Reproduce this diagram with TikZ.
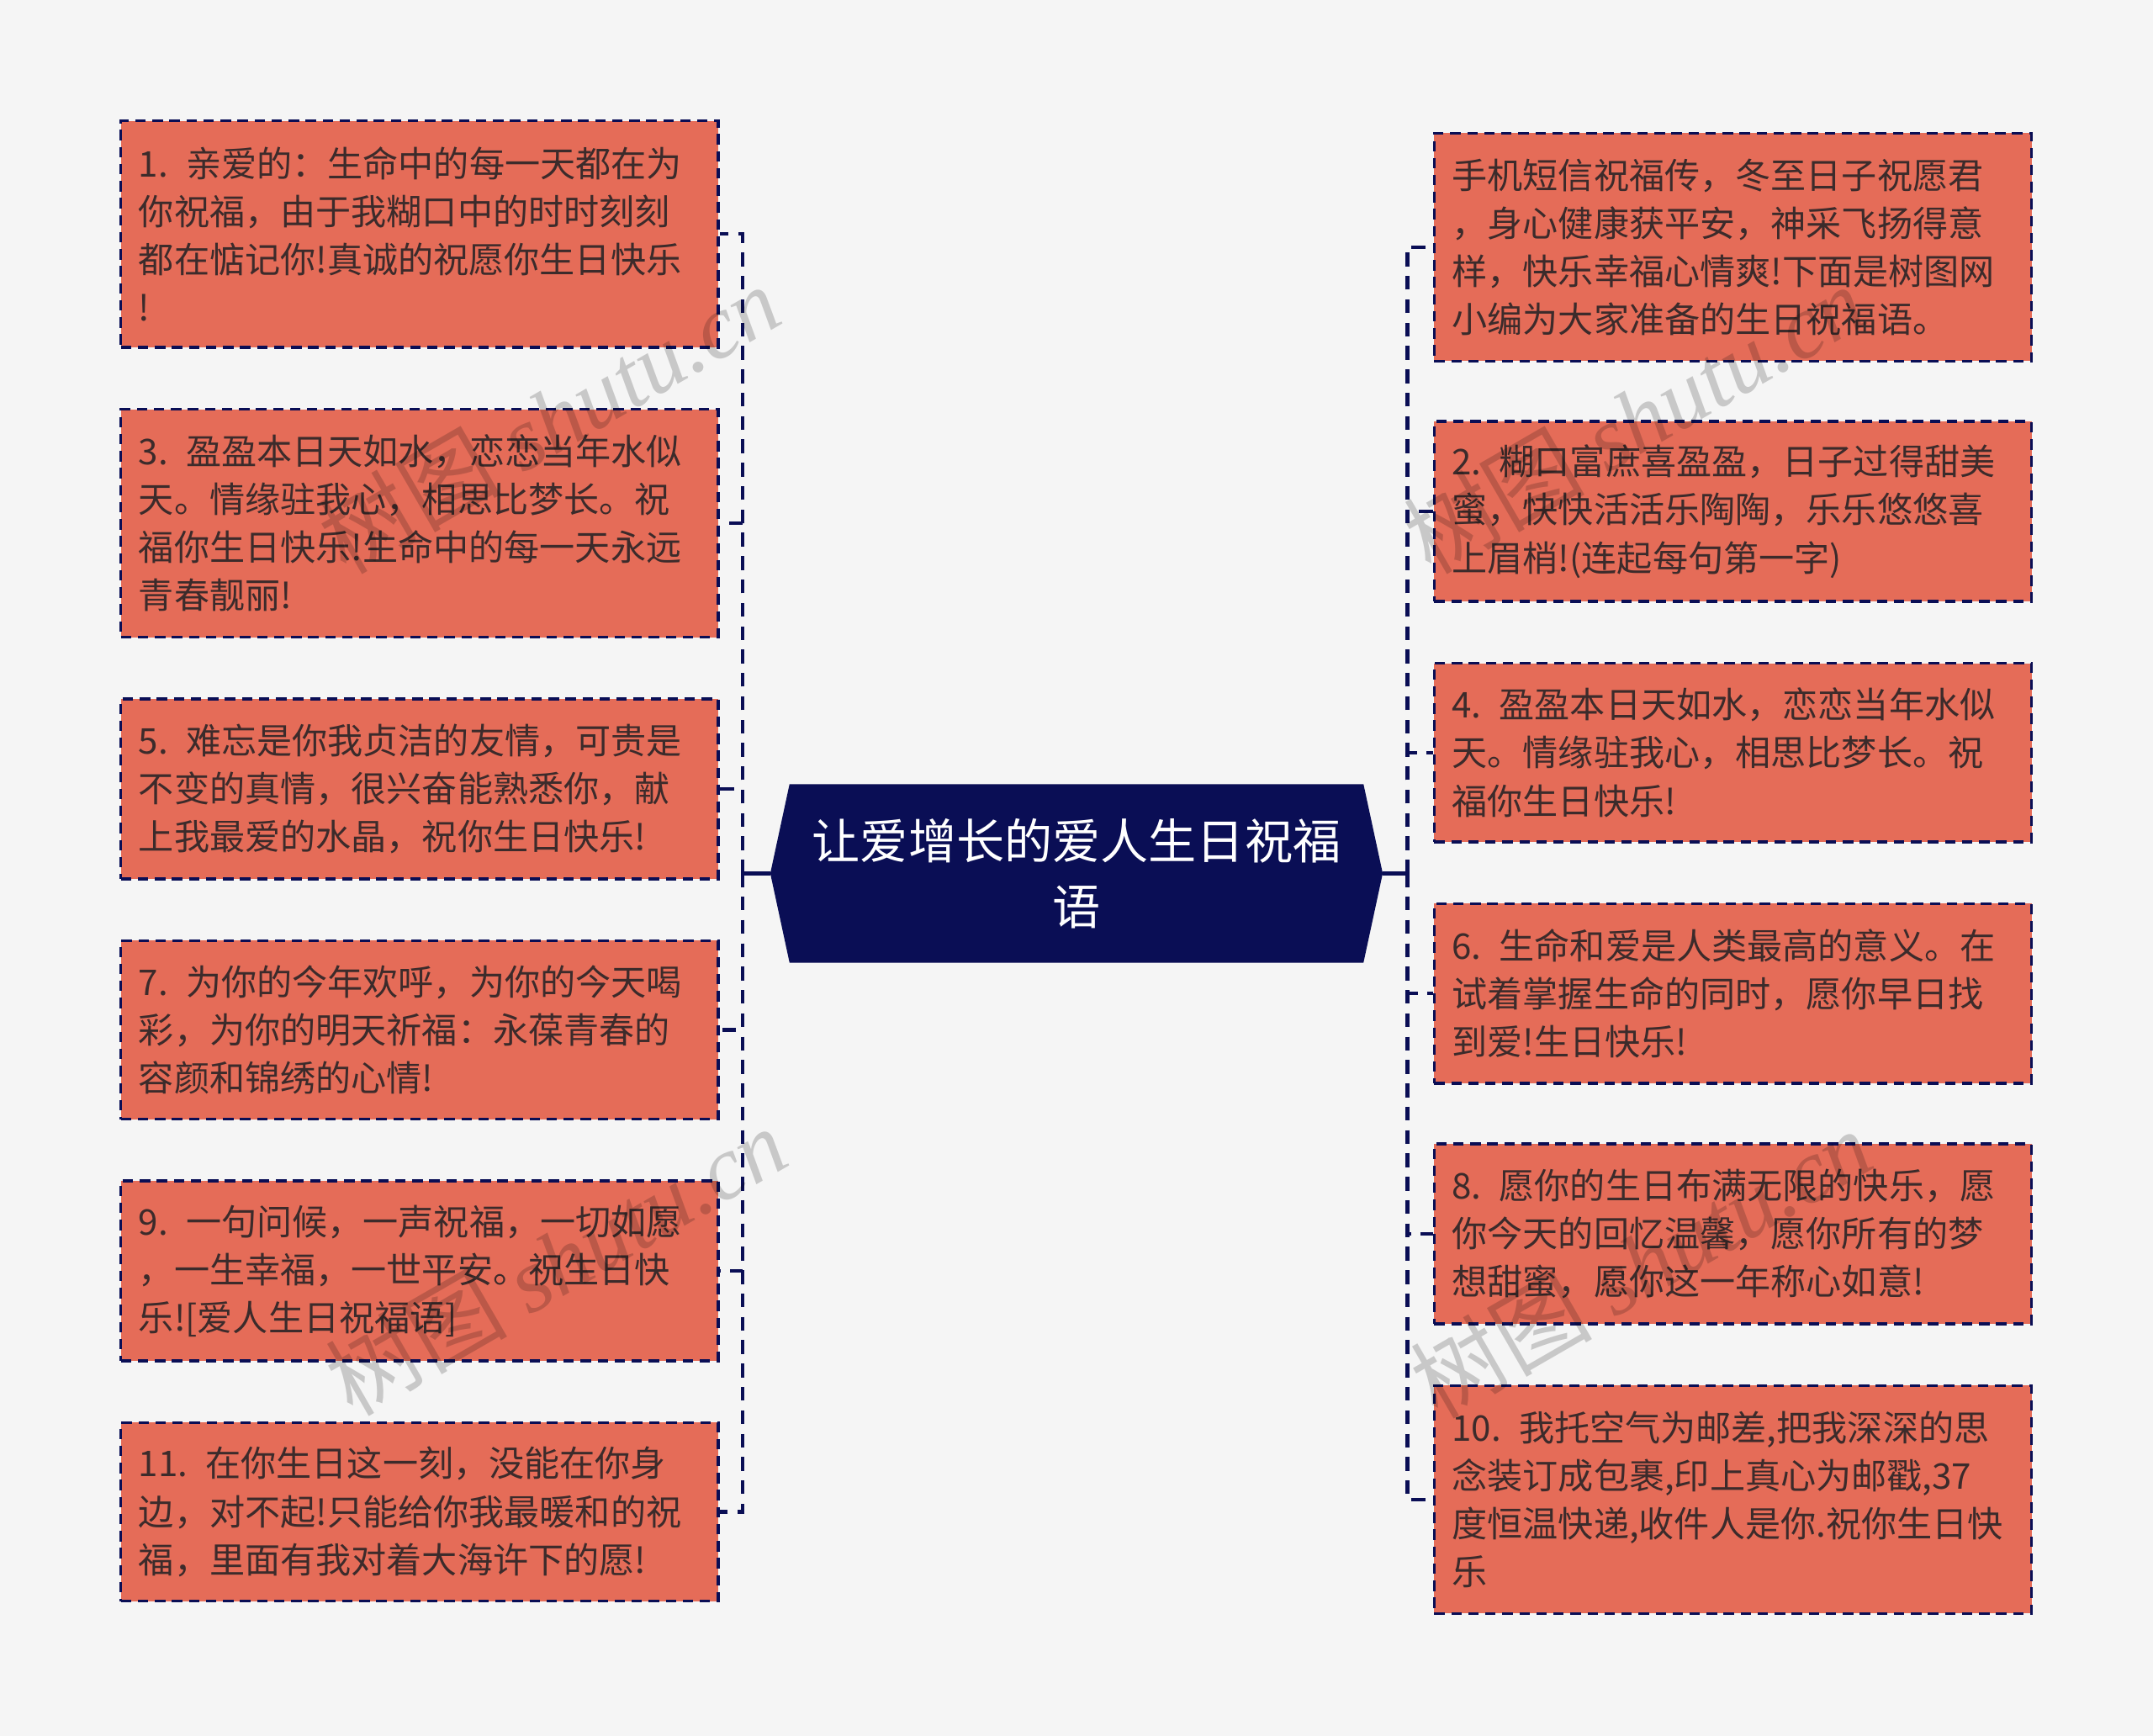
\documentclass[tikz,border=0pt]{standalone}
\usepackage{fontspec}
\setmainfont{Noto Sans CJK SC}
\newfontfamily\wmserif{Liberation Serif}
\definecolor{navy}{HTML}{0A0E55}
\definecolor{salm}{HTML}{E56C58}
\definecolor{txt}{HTML}{3C2B2B}
\definecolor{bg}{HTML}{F5F5F5}
\begin{document}
\begin{tikzpicture}[x=0.5pt,y=-0.5pt,
  box/.style={draw=navy, fill=salm, dash pattern=on 3.8pt off 2.4pt, line width=1.1pt,
    text=txt, font=\fontsize{12.9}{17.5}\selectfont, text width=204.5pt,
    inner xsep=6.5pt, inner ysep=0pt, align=left, minimum width=217.5pt},
  conn/.style={draw=navy, line width=1.3pt, dash pattern=on 5pt off 3.5pt},
  stem/.style={draw=navy, line width=1.3pt},
  wm/.style={text=black, opacity=0.18, rotate=30, inner sep=0pt}]
\useasboundingbox (0,0) rectangle (1568,1264);
\fill[bg] (0,0) rectangle (1568,1264);

% central node
\fill[navy] (575,571) -- (993,571) -- (1007,636) -- (993,701) -- (575,701) -- (561,636) -- cycle;
\node[text=white, align=center, font=\fontsize{17.5}{24}\selectfont, inner sep=0pt] (root) at (784,636)
  {让爱增长的爱人生日祝福\\语};
\coordinate (rootL) at (561,636);
\coordinate (rootR) at (1007,636);
\coordinate (busL) at (541,636);
\coordinate (busR) at (1025,636);

% left boxes
\node[box, minimum height=82.5pt] (L1) at (305.5,170.5)
  {1. 亲爱的：生命中的每一天都在为\\你祝福，由于我糊口中的时时刻刻\\都在惦记你!真诚的祝愿你生日快乐\\!};
\node[box, minimum height=83pt] (L3) at (305.5,381)
  {3. 盈盈本日天如水，恋恋当年水似\\天。情缘驻我心，相思比梦长。祝\\福你生日快乐!生命中的每一天永远\\青春靓丽!};
\node[box, minimum height=65.5pt] (L5) at (305.5,574.5)
  {5. 难忘是你我贞洁的友情，可贵是\\不变的真情，很兴奋能熟悉你，献\\上我最爱的水晶，祝你生日快乐!};
\node[box, minimum height=65pt] (L7) at (305.5,750)
  {7. 为你的今年欢呼，为你的今天喝\\彩，为你的明天祈福：永葆青春的\\容颜和锦绣的心情!};
\node[box, minimum height=65.5pt] (L9) at (305.5,925.5)
  {9. 一句问候，一声祝福，一切如愿\\，一生幸福，一世平安。祝生日快\\乐![爱人生日祝福语]};
\node[box, minimum height=65pt] (L11) at (305.5,1101)
  {11. 在你生日这一刻，没能在你身\\边，对不起!只能给你我最暖和的祝\\福，里面有我对着大海许下的愿!};

% right boxes
\node[box, minimum height=83pt] (R0) at (1262,180)
  {手机短信祝福传，冬至日子祝愿君\\，身心健康获平安，神采飞扬得意\\样，快乐幸福心情爽!下面是树图网\\小编为大家准备的生日祝福语。};
\node[box, minimum height=65.5pt] (R2) at (1262,372.5)
  {2. 糊口富庶喜盈盈，日子过得甜美\\蜜，快快活活乐陶陶，乐乐悠悠喜\\上眉梢!(连起每句第一字)};
\node[box, minimum height=65pt] (R4) at (1262,548)
  {4. 盈盈本日天如水，恋恋当年水似\\天。情缘驻我心，相思比梦长。祝\\福你生日快乐!};
\node[box, minimum height=65.5pt] (R6) at (1262,723.5)
  {6. 生命和爱是人类最高的意义。在\\试着掌握生命的同时，愿你早日找\\到爱!生日快乐!};
\node[box, minimum height=65.5pt] (R8) at (1262,898.5)
  {8. 愿你的生日布满无限的快乐，愿\\你今天的回忆温馨，愿你所有的梦\\想甜蜜，愿你这一年称心如意!};
\node[box, minimum height=83pt] (R10) at (1262,1092)
  {10. 我托空气为邮差,把我深深的思\\念装订成包裹,印上真心为邮戳,37\\度恒温快递,收件人是你.祝你生日快\\乐};

% connectors
\draw[stem] (rootL) -- (busL);
\draw[stem] (rootR) -- (busR);
\foreach \n in {L1,L3,L5,L7,L9,L11} \draw[conn] (busL) |- (\n.east);
\foreach \n in {R0,R2,R4,R6,R8,R10} \draw[conn] (busR) |- (\n.west);

% watermarks
\node[wm] (wm1) at (400,305) {\fontsize{33}{33}\selectfont 树图\wmserif\itshape\ shutu.cn};
\node[wm] (wm2) at (405,918) {\fontsize{33}{33}\selectfont 树图\wmserif\itshape\ shutu.cn};
\node[wm] (wm3) at (1190,305) {\fontsize{33}{33}\selectfont 树图\wmserif\itshape\ shutu.cn};
\node[wm] (wm4) at (1195,920) {\fontsize{33}{33}\selectfont 树图\wmserif\itshape\ shutu.cn};
\end{tikzpicture}
\end{document}
